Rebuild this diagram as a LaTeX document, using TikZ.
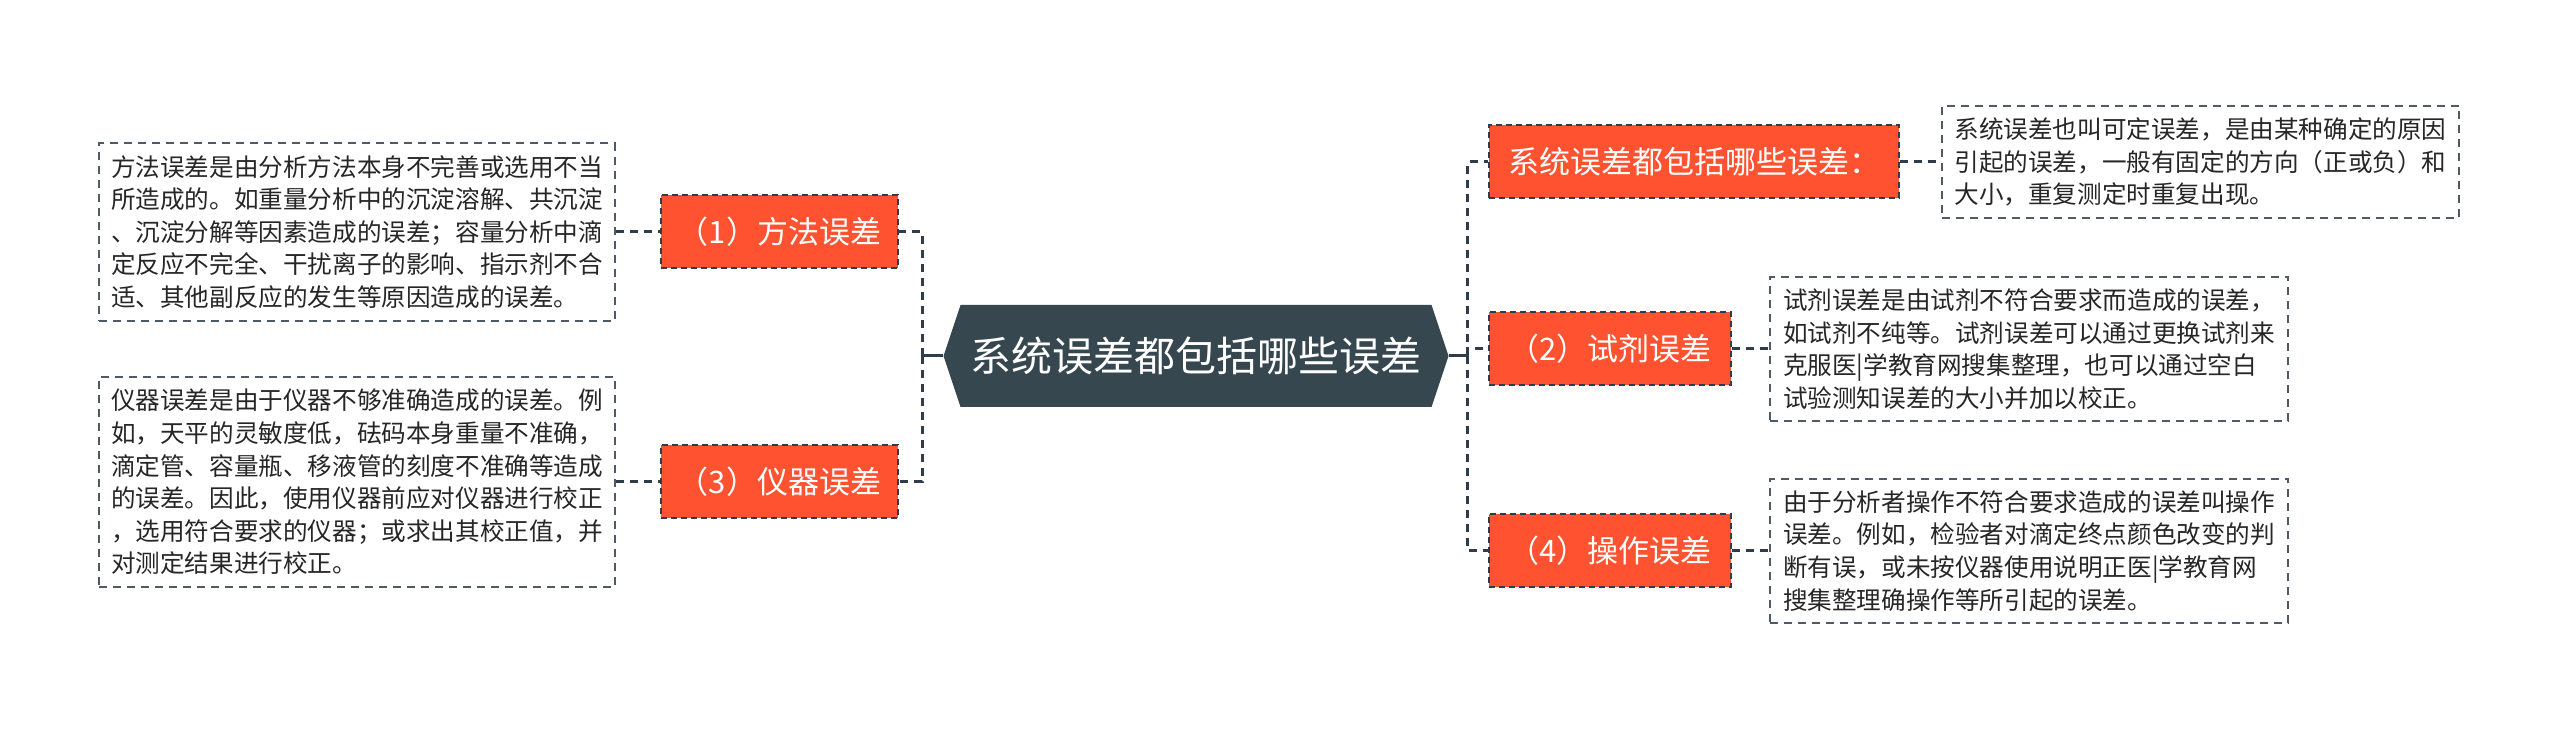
\documentclass[tikz,border=0pt]{standalone}
\usepackage{fontspec}
\usetikzlibrary{positioning}
\newfontfamily\cjk{Noto Sans CJK SC}
\definecolor{topic}{HTML}{37474F}
\definecolor{branch}{HTML}{FF5230}
\definecolor{wire}{HTML}{2F3D4A}

\begin{document}
\begin{tikzpicture}[x=0.5pt, y=-0.5pt, font=\cjk,
  wirestyle/.style={wire, line width=1.5pt, dash pattern=on 4pt off 3pt},
  topicbox/.style={minimum width=252.5pt, minimum height=51pt, inner sep=0pt, text=white,
    font=\cjk\fontsize{20.5}{24}\selectfont,
    path picture={\fill[topic] (path picture bounding box.west)
      -- ([xshift=8.5pt]path picture bounding box.north west)
      -- ([xshift=-8.5pt]path picture bounding box.north east)
      -- (path picture bounding box.east)
      -- ([xshift=-8.5pt]path picture bounding box.south east)
      -- ([xshift=8.5pt]path picture bounding box.south west) -- cycle;}},
  branchbox/.style={fill=branch, draw=wire, line width=1pt, dash pattern=on 3pt off 2pt,
    text=white, minimum height=36.5pt, inner xsep=8pt,
    font=\cjk\fontsize{15.5}{18}\selectfont},
  notebox/.style={draw=wire!85, line width=1pt, dash pattern=on 4pt off 3pt, fill=white,
    align=left, inner xsep=6pt, inner ysep=6pt, text=black!85,
    font=\cjk\fontsize{12.3}{16.3}\selectfont}]
  \useasboundingbox (0,0) rectangle (2560,731);

  \node[topicbox] (hub) at (1196,356) {系统误差都包括哪些误差};

  \node[branchbox, minimum width=118.5pt] (fangfa) at (779.5,232) {（1）方法误差};
  \node[branchbox, minimum width=118.5pt] (yiqi) at (779.5,482) {（3）仪器误差};
  \node[branchbox, minimum width=205pt] (baokuo) at (1694,162) {系统误差都包括哪些误差：};
  \node[branchbox, minimum width=121pt] (shiji) at (1610,349) {（2）试剂误差};
  \node[branchbox, minimum width=121pt] (caozuo) at (1610,551) {（4）操作误差};

  \node[notebox, minimum width=257pt, left=22pt of fangfa] (fangfaNote)
    {方法误差是由分析方法本身不完善或选用不当\\
     所造成的。如重量分析中的沉淀溶解、共沉淀\\
     、沉淀分解等因素造成的误差；容量分析中滴\\
     定反应不完全、干扰离子的影响、指示剂不合\\
     适、其他副反应的发生等原因造成的误差。};
  \node[notebox, minimum width=257pt, left=22pt of yiqi] (yiqiNote)
    {仪器误差是由于仪器不够准确造成的误差。例\\
     如，天平的灵敏度低，砝码本身重量不准确，\\
     滴定管、容量瓶、移液管的刻度不准确等造成\\
     的误差。因此，使用仪器前应对仪器进行校正\\
     ，选用符合要求的仪器；或求出其校正值，并\\
     对测定结果进行校正。};
  \node[notebox, minimum width=258.5pt, right=20.5pt of baokuo] (baokuoNote)
    {系统误差也叫可定误差，是由某种确定的原因\\
     引起的误差，一般有固定的方向（正或负）和\\
     大小，重复测定时重复出现。};
  \node[notebox, minimum width=259pt, right=18.5pt of shiji] (shijiNote)
    {试剂误差是由试剂不符合要求而造成的误差，\\
     如试剂不纯等。试剂误差可以通过更换试剂来\\
     克服医|学教育网搜集整理，也可以通过空白\\
     试验测知误差的大小并加以校正。};
  \node[notebox, minimum width=259pt, right=18.5pt of caozuo] (caozuoNote)
    {由于分析者操作不符合要求造成的误差叫操作\\
     误差。例如，检验者对滴定终点颜色改变的判\\
     断有误，或未按仪器使用说明正医|学教育网\\
     搜集整理确操作等所引起的误差。};

  \draw[wire, line width=1.5pt] (hub.west) -- ++(-21,0) coordinate (leftJoin);
  \draw[wire, line width=1.5pt] (hub.east) -- ++(19,0) coordinate (rightJoin);
  \draw[wirestyle] (leftJoin) |- (fangfa.east);
  \draw[wirestyle] (leftJoin) |- (yiqi.east);
  \draw[wirestyle] (rightJoin) |- (baokuo.west);
  \draw[wirestyle] (rightJoin) |- (shiji.west);
  \draw[wirestyle] (rightJoin) |- (caozuo.west);

  \draw[wirestyle] (fangfaNote) -- (fangfa);
  \draw[wirestyle] (yiqiNote) -- (yiqi);
  \draw[wirestyle] (baokuo) -- (baokuoNote);
  \draw[wirestyle] (shiji) -- (shijiNote);
  \draw[wirestyle] (caozuo) -- (caozuoNote);
\end{tikzpicture}
\end{document}
